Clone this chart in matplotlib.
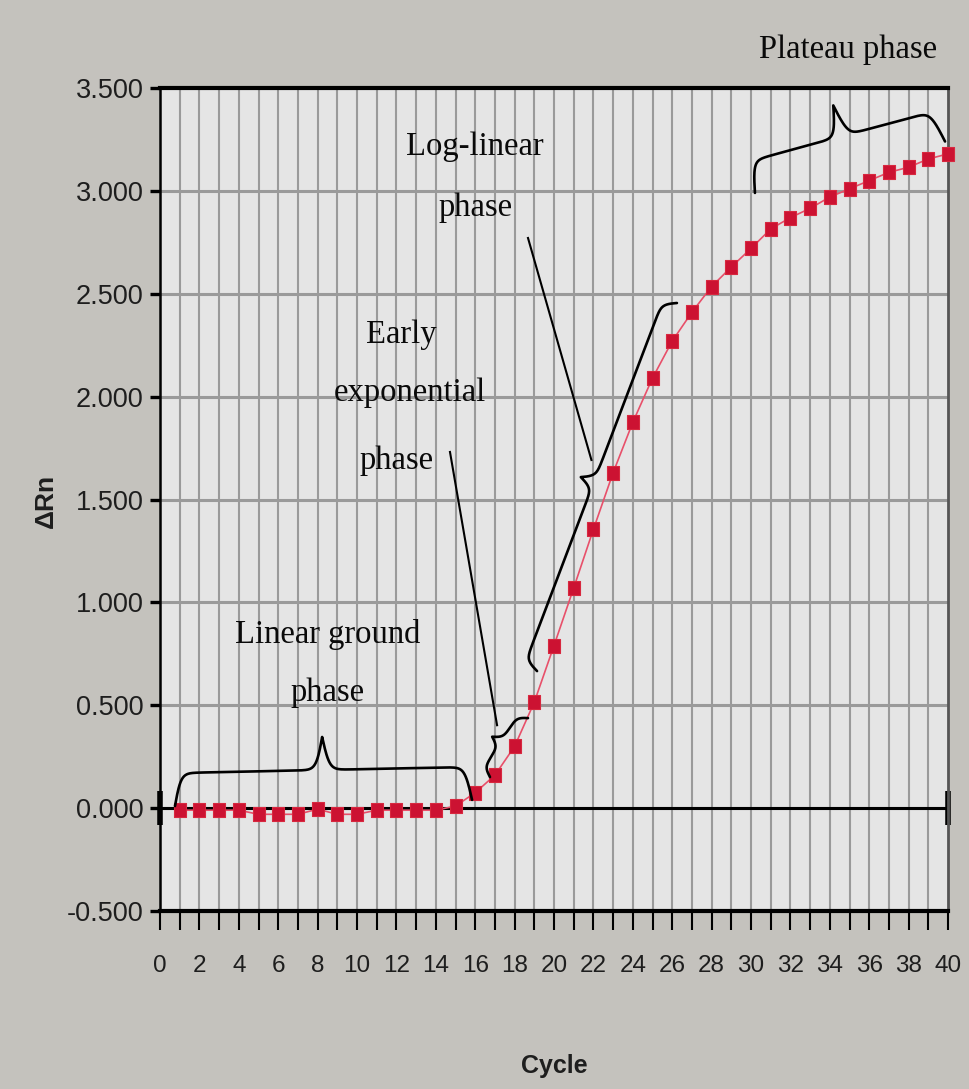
import numpy as np
import matplotlib
matplotlib.use("Agg")
import matplotlib.pyplot as plt

# ---------------- data ----------------
cycles = list(range(1, 41))
delta_rn = [-0.01, -0.01, -0.01, -0.01, -0.03, -0.03, -0.03, -0.005, -0.03, -0.03,
            -0.01, -0.01, -0.01, -0.01, 0.01, 0.075, 0.16, 0.30, 0.515, 0.79,
            1.07, 1.355, 1.63, 1.875, 2.09, 2.27, 2.41, 2.535, 2.63, 2.72,
            2.815, 2.87, 2.915, 2.97, 3.01, 3.05, 3.09, 3.115, 3.155, 3.18]
x_ticks = list(range(0, 41))
x_tick_labels = [str(v) if v % 2 == 0 else "" for v in x_ticks]
y_ticks = [-0.5, 0.0, 0.5, 1.0, 1.5, 2.0, 2.5, 3.0, 3.5]
y_tick_labels = ["-0.500", "0.000", "0.500", "1.000", "1.500", "2.000", "2.500", "3.000", "3.500"]

# annotation texts (data coords)
labels = [
    ("Plateau phase", 34.92, 3.685),
    ("Log-linear", 16.0, 3.213),
    ("phase", 16.0, 2.92),
    ("Early", 12.23, 2.30),
    ("exponential", 12.69, 2.02),
    ("phase", 12.03, 1.69),
    ("Linear ground", 8.53, 0.845),
    ("phase", 8.53, 0.56),
]
# braces: (start, end, depth in px, beta)
braces = [
    ((0.76, 0.01), (15.84, 0.04), 66, 0.30),
    ((30.2, 2.99), (39.85, 3.24), 64, 0.30),
    ((19.14, 0.666), (26.24, 2.455), 28, 0.30),
    ((16.75, 0.151), (18.68, 0.4375), 20, 0.35),
]
pointers = [
    ((14.72, 1.731), (17.11, 0.403)),
    ((18.68, 2.771), (21.9, 1.692)),
]

FIG_BG = "#c4c2bd"
AX_BG = "#e5e5e5"
GRID = "#9a9a9a"
SANS = ["Liberation Sans Narrow", "Liberation Sans", "DejaVu Sans"]
SERIF = ["Liberation Serif", "DejaVu Serif"]

fig = plt.figure(figsize=(9.69, 10.89), dpi=100, facecolor=FIG_BG)
ax = fig.add_axes([160 / 969, 1 - 911 / 1089, 788 / 969, 823 / 1089])
ax.set_facecolor(AX_BG)
ax.set_xlim(0, 40)
ax.set_ylim(-0.5, 3.5)

# grid
for xv in range(1, 40):
    ax.axvline(xv, color=GRID, lw=1.5, zorder=1)
for yv in y_ticks[1:-1]:
    ax.axhline(yv, color=GRID, lw=2.2, zorder=1)

# zero line with end caps
ax.plot([0, 40], [0, 0], color="black", lw=2.2, zorder=2, marker="|",
        markersize=24, mew=4, clip_on=False)

# data
rect_marker = [(-0.8, -1), (0.8, -1), (0.8, 1), (-0.8, 1), (-0.8, -1)]
ax.plot(cycles, delta_rn, color="#e8506a", lw=1.2, zorder=3)
ax.plot(cycles, delta_rn, ls="none", marker=rect_marker, markersize=10.5,
        color="#cc1232", mec="#d8283f", mew=0.8, zorder=4, clip_on=False)

# spines
for s in ["top", "bottom", "left"]:
    ax.spines[s].set_color("black")
ax.spines["top"].set_linewidth(3.0)
ax.spines["bottom"].set_linewidth(3.0)
ax.spines["left"].set_linewidth(1.8)
ax.spines["right"].set_color("#555555")
ax.spines["right"].set_linewidth(2.0)

ax.set_xticks(x_ticks)
ax.set_xticklabels(x_tick_labels)
ax.set_yticks(y_ticks)
ax.set_yticklabels(y_tick_labels)
ax.tick_params(axis="x", direction="out", length=14, width=1.5, color="black",
               pad=18, labelsize=17.5, labelcolor="#1e1e1e")
ax.tick_params(axis="y", direction="out", length=7, width=2.4, color="black",
               pad=5, labelsize=19.5, labelcolor="#1e1e1e")
for lab in ax.get_xticklabels() + ax.get_yticklabels():
    lab.set_family(SANS)

ax.set_xlabel("Cycle", family=SANS, fontsize=18, fontweight="bold", color="#1e1e1e")
ax.xaxis.set_label_coords(0.5, -(1054 - 911) / 823)
ax.set_ylabel("ΔRn", family=SANS, fontsize=19, fontweight="bold", color="#1e1e1e")
ax.yaxis.set_label_coords(-(160 - 58) / 788, (911 - 501) / 823)

# annotation texts
for txt, xx, yy in labels:
    ax.text(xx, yy, txt, family=SERIF, fontsize=23.5, ha="center", va="center",
            color="#0a0a0a", zorder=6, clip_on=False)


def draw_brace(p1, p2, depth, beta, m=300):
    a = ax.transData.transform(p1)
    b = ax.transData.transform(p2)
    d = b - a
    L = np.hypot(*d)
    t = d / L
    nrm = np.array([-t[1], t[0]])
    u = np.linspace(0, L, 2 * m + 1)
    half = u[:m + 1]
    yh = (1 / (1 + np.exp(-beta * (half - half[0])))
          + 1 / (1 + np.exp(-beta * (half - half[-1]))))
    y = np.concatenate([yh, yh[-2::-1]])
    v = (y - 0.5) * depth
    pts = a[None, :] + u[:, None] * t[None, :] + v[:, None] * nrm[None, :]
    data = ax.transData.inverted().transform(pts)
    ax.plot(data[:, 0], data[:, 1], color="black", lw=1.9, zorder=5,
            solid_capstyle="round", clip_on=False)


for p1, p2, dep, bt in braces:
    draw_brace(p1, p2, dep, bt)

for p1, p2 in pointers:
    ax.plot([p1[0], p2[0]], [p1[1], p2[1]], color="black", lw=1.5, zorder=5)

fig.savefig("out.png", dpi=100, facecolor=FIG_BG)
